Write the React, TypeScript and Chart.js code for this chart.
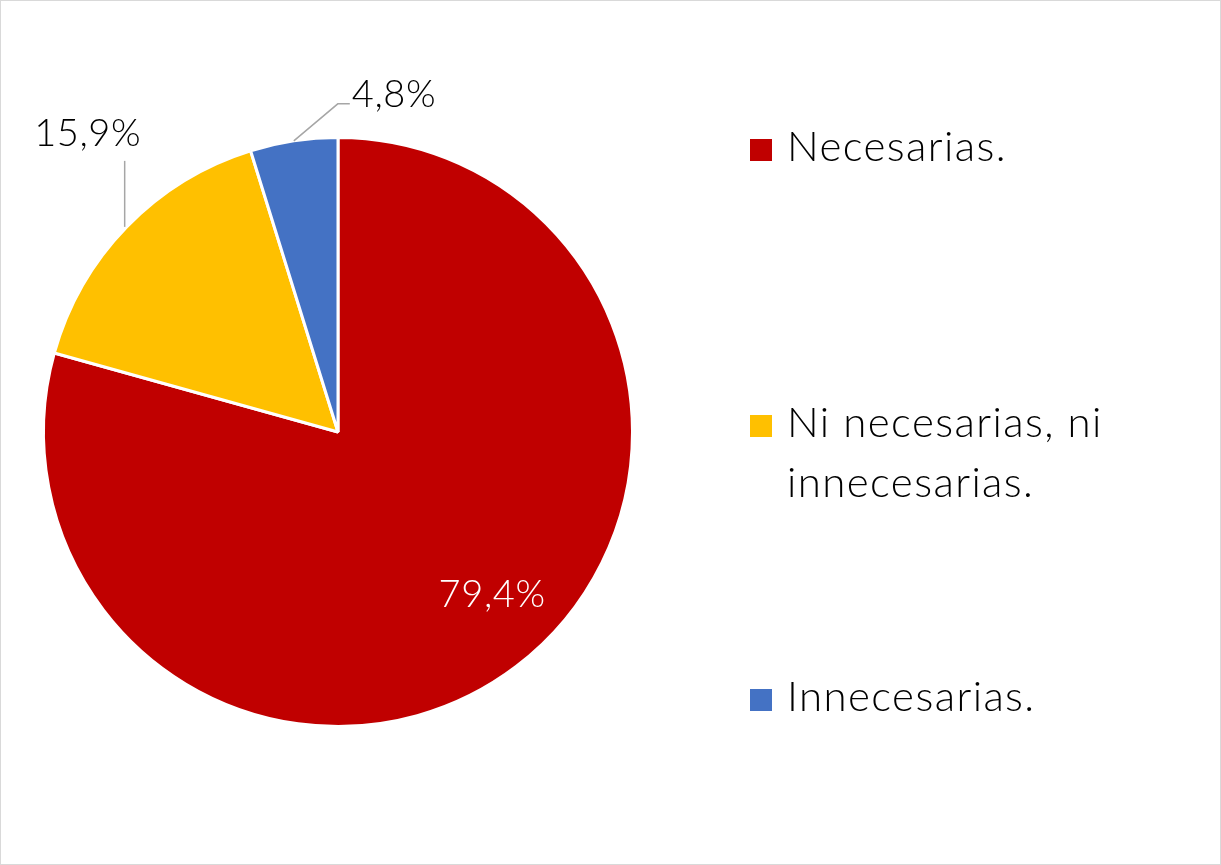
import React, { useEffect, useRef } from "react";
import { Chart, registerables } from "chart.js";

Chart.register(...registerables);

const categories = ["Necesarias.", "Ni necesarias, ni innecesarias.", "Innecesarias."];
const legendLines = [["Necesarias."], ["Ni necesarias, ni", "innecesarias."], ["Innecesarias."]];
const values = [79.4, 15.9, 4.8];
const valueLabels = ["79,4%", "15,9%", "4,8%"];
const colors = ["#C00000", "#FFC000", "#4472C4"];

const LABEL_FONT = "300 38px Lato, 'Open Sans', sans-serif";
const LEGEND_FONT = "300 42px Lato, 'Open Sans', sans-serif";

const overlayPlugin = {
  id: "overlay",
  afterDraw(chart: any) {
    const ctx = chart.ctx as CanvasRenderingContext2D;
    const meta = chart.getDatasetMeta(0);
    ctx.save();
    ctx.strokeStyle = "#d9d9d9";
    ctx.lineWidth = 1;
    ctx.strokeRect(0.5, 0.5, chart.width - 1, chart.height - 1);

    ctx.font = LABEL_FONT;
    (ctx as any).letterSpacing = "0.6px";
    ctx.textBaseline = "middle";
    meta.data.forEach((arc: any, i: number) => {
      const { x, y, startAngle, endAngle, outerRadius } = arc.getProps(
        ["x", "y", "startAngle", "endAngle", "outerRadius"],
        true
      );
      const mid = (startAngle + endAngle) / 2;
      const ax = x + Math.cos(mid) * outerRadius;
      const ay = y + Math.sin(mid) * outerRadius;
      if (i === 0) {
        const r = outerRadius * 0.76;
        const a = mid - 0.11;
        ctx.fillStyle = "#ffffff";
        ctx.textAlign = "center";
        ctx.fillText(valueLabels[i], x + Math.cos(a) * r, y + Math.sin(a) * r);
      } else if (i === 1) {
        ctx.strokeStyle = "#a6a6a6";
        ctx.lineWidth = 1.5;
        ctx.beginPath();
        ctx.moveTo(ax - 2, ay);
        ctx.lineTo(ax - 2, ay - 66);
        ctx.stroke();
        ctx.fillStyle = "#000";
        ctx.textAlign = "center";
        ctx.fillText(valueLabels[i], ax - 39, ay - 93);
      } else {
        ctx.strokeStyle = "#a6a6a6";
        ctx.lineWidth = 1.5;
        ctx.beginPath();
        ctx.moveTo(ax, ay);
        ctx.lineTo(ax + 44, ay - 37);
        ctx.lineTo(ax + 56, ay - 37);
        ctx.stroke();
        ctx.fillStyle = "#000";
        ctx.textAlign = "left";
        ctx.fillText(valueLabels[i], ax + 58, ay - 46);
      }
    });

    // legend
    ctx.font = LEGEND_FONT;
    (ctx as any).letterSpacing = "1.4px";
    ctx.textBaseline = "alphabetic";
    ctx.textAlign = "left";
    const baselines = [161, 437, 711];
    legendLines.forEach((lines, i) => {
      const b = baselines[i];
      ctx.fillStyle = colors[i];
      ctx.fillRect(750, b - 22, 22, 22);
      ctx.fillStyle = "#000";
      lines.forEach((ln, j) => {
        ctx.fillText(ln, 787, b + j * 60);
      });
    });
    ctx.restore();
  },
};

export default function App() {
  const ref = useRef<HTMLCanvasElement>(null);
  useEffect(() => {
    document.body.style.margin = "0";
    const chart = new Chart(ref.current!, {
      type: "pie",
      data: {
        labels: categories,
        datasets: [
          {
            data: values,
            backgroundColor: colors,
            borderColor: "#ffffff",
            borderWidth: 3,
          },
        ],
      },
      options: {
        responsive: false,
        animation: false,
        layout: { padding: { left: 42, top: 136, right: 587, bottom: 137 } },
        plugins: { legend: { display: false }, tooltip: { enabled: false } },
      },
      plugins: [overlayPlugin],
    });
    return () => chart.destroy();
  }, []);
  return (
    <div style={{ width: 1221, height: 865, background: "#fff" }}>
      <canvas ref={ref} width={1221} height={865} style={{ display: "block" }} />
    </div>
  );
}
